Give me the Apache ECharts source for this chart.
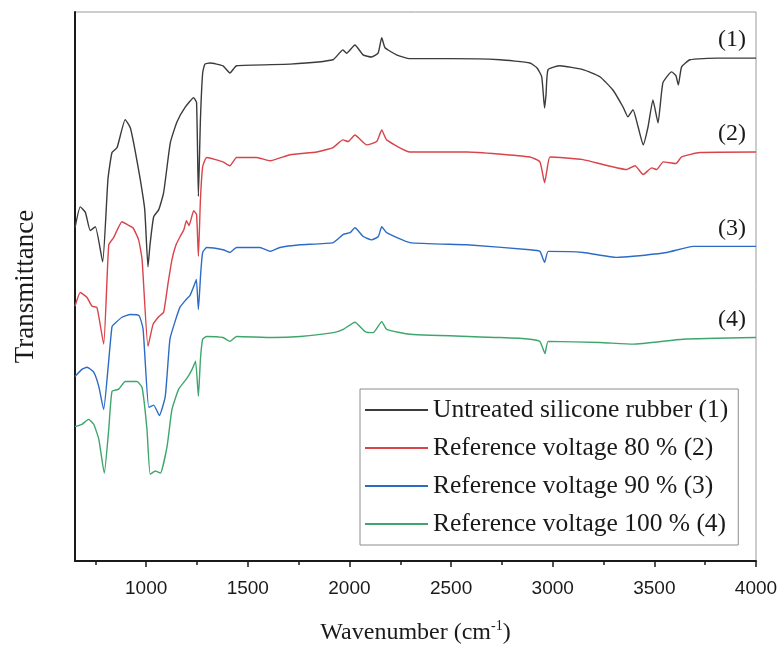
<!DOCTYPE html>
<html>
<head>
<meta charset="utf-8">
<script src="https://cdn.jsdelivr.net/npm/echarts@6/dist/echarts.min.js"></script>
<style>
html,body{margin:0;padding:0;background:#fff;}
#chart{width:782px;height:650px;}
</style>
</head>
<body>
<div id="chart"></div>
<script>
// ---- Data (wavenumber in cm^-1, transmittance in arbitrary units) ----
const seriesNames = [
  'Untreated silicone rubber (1)',
  'Reference voltage 80 % (2)',
  'Reference voltage 90 % (3)',
  'Reference voltage 100 % (4)'
];
const curveTags = ['(1)', '(2)', '(3)', '(4)'];

const untreatedWn = [650,676,701,725,750,786,812,832,857,897,922,945,971,993,1009,1019,1037,1062,1086,1119,1152,1193,1234,1248,1257,1267,1278,1289,1314,1378,1412,1445,1708,1919,1968,1986,2027,2067,2109,2141,2159,2175,2232,2298,2495,2741,2888,2923,2946,2960,2967,2977,3036,3149,3232,3296,3346,3370,3395,3420,3445,3469,3493,3518,3542,3585,3606,3618,3634,3675,3807,4000];
const untreatedT  = [60.7,64.5,63.5,60.2,60.9,54.5,69.5,74.4,75.3,80.4,78.9,74.9,69.5,64.0,53.6,57.6,62.7,64.0,67.1,76.2,80.0,82.7,84.4,83.5,66.4,80.4,88.9,90.5,90.7,90.2,88.9,90.2,90.5,91.3,93.1,92.5,94.0,92.2,91.8,92.5,95.3,93.5,92.2,91.5,91.5,91.3,90.7,89.8,88.2,82.5,84.9,89.5,90.2,89.5,88.2,85.8,82.7,80.9,82.2,79.1,75.8,79.1,84.0,79.8,87.1,89.1,88.4,86.7,90.0,91.3,91.6,91.6];

const v80Wn = [650,676,709,734,758,791,816,840,881,906,935,963,980,1009,1034,1062,1086,1107,1127,1147,1167,1186,1198,1211,1234,1248,1257,1267,1278,1298,1378,1412,1445,1544,1609,1708,1839,1919,1968,1993,2027,2085,2134,2159,2183,2298,2577,2888,2937,2960,2972,2987,3149,3364,3405,3445,3487,3511,3544,3606,3634,3724,4000];
const v80T  = [46.4,48.9,48.0,46.4,46.2,39.5,57.6,58.9,61.8,61.3,60.7,58.5,54.9,39.1,43.1,44.5,45.3,50.4,54.9,57.6,59.1,60.4,62.0,61.1,63.8,63.1,55.5,65.8,71.8,73.5,72.7,72.0,73.5,73.5,72.9,74.0,74.5,75.3,76.7,76.4,77.6,75.8,76.4,78.5,76.7,74.5,74.5,73.6,72.7,68.9,71.3,73.6,73.1,71.3,72.0,70.4,71.6,71.3,72.7,72.4,73.6,74.4,74.5];

const v90Wn = [650,684,709,742,767,791,812,832,847,881,922,965,985,1013,1037,1065,1094,1117,1142,1166,1196,1216,1236,1247,1257,1268,1278,1298,1378,1412,1445,1560,1609,1658,1757,1920,1970,2003,2027,2068,2109,2142,2159,2183,2298,2577,2888,2937,2960,2978,3150,3315,3395,3561,3691,4000];
const v90T  = [33.6,34.9,35.3,34.4,31.8,27.6,34.9,42.7,43.3,44.4,44.9,44.7,42.2,28.0,28.4,26.5,30.0,40.4,43.6,46.2,47.6,48.4,50.2,51.3,45.8,52.2,56.2,57.1,56.7,56.2,57.1,57.1,56.4,57.1,57.6,58.0,59.5,59.8,60.7,59.1,58.5,59.1,60.9,59.8,58.0,57.6,56.7,56.4,54.4,56.4,56.2,55.3,55.5,56.2,57.3,57.3];

const v100Wn = [650,684,717,742,767,794,816,832,865,897,955,980,1004,1020,1045,1070,1103,1127,1160,1201,1226,1243,1257,1267,1278,1298,1378,1412,1445,1624,1757,1921,1970,2027,2077,2117,2159,2183,2298,2741,2888,2937,2962,2978,3232,3395,3642,4000];
const v100T  = [24.5,24.9,25.8,24.9,22.2,16.0,24.0,30.9,31.3,32.7,32.7,31.6,24.0,15.8,16.4,16.0,20.9,27.6,31.3,33.3,34.9,36.4,30.0,36.7,40.4,40.9,40.7,40.0,40.9,40.7,40.9,41.6,42.2,43.5,41.8,41.6,43.6,42.2,41.3,40.7,40.4,40.0,37.8,40.0,39.8,39.5,40.4,40.7];

const xMajorTicks = [1000,1500,2000,2500,3000,3500,4000];
const xMinorTicks = [750,1250,1750,2250,2750,3250,3750];
const xMin = 650, xMax = 4000;

// ---- Build chart ----
const colors = ['#3b3b3b', '#d9434a', '#2d6cc6', '#3ea66c'];
const wnArrays = [untreatedWn, v80Wn, v90Wn, v100Wn];
const tArrays = [untreatedT, v80T, v90T, v100T];
const zip = (a, b) => a.map((x, i) => [x, b[i]]);

const chart = echarts.init(document.getElementById('chart'), null, {renderer: 'canvas'});

const serif = '"Liberation Serif", "DejaVu Serif", serif';
const sans = '"Liberation Sans", Arial, sans-serif';

const series = seriesNames.map((name, i) => ({
  name: name,
  type: 'line',
  xAxisIndex: 0,
  data: zip(wnArrays[i], tArrays[i]),
  showSymbol: false,
  symbol: 'none',
  smooth: 0.15,
  lineStyle: {color: colors[i], width: 1.4},
  itemStyle: {color: colors[i]},
  endLabel: {
    show: true,
    formatter: curveTags[i],
    fontFamily: serif,
    fontSize: 24,
    color: '#1a1a1a',
    align: 'right',
    verticalAlign: 'bottom',
    offset: [-18, -6]
  },
  z: 10 - i
}));

const option = {
  animation: false,
  backgroundColor: '#fff',
  grid: {
    left: 75, right: 26, top: 12, bottom: 88,
    show: true, borderColor: '#9a9a9a', borderWidth: 1
  },
  legend: {
    orient: 'vertical',
    left: 360, top: 389,
    data: seriesNames,
    icon: 'rect',
    itemWidth: 63, itemHeight: 2,
    itemGap: 12,
    padding: [8, 10, 8, 5],
    borderColor: '#8c8c8c', borderWidth: 1,
    backgroundColor: '#fff',
    textStyle: {fontFamily: serif, fontSize: 25.5, color: '#1a1a1a', lineHeight: 26}
  },
  xAxis: [{
    type: 'value',
    min: xMin, max: xMax,
    name: '{a|Wavenumber (cm}{s|-1}{a|)}',
    nameLocation: 'middle',
    nameGap: 58,
    nameTextStyle: {
      rich: {
        a: {fontFamily: serif, fontSize: 24, color: '#1a1a1a', lineHeight: 28},
        s: {fontFamily: serif, fontSize: 14, color: '#1a1a1a', verticalAlign: 'top', lineHeight: 14}
      }
    },
    axisLine: {show: true, onZero: false, lineStyle: {color: '#1a1a1a', width: 2}},
    splitLine: {show: false},
    axisTick: {show: true, inside: false, length: 6, customValues: xMajorTicks, lineStyle: {color: '#1a1a1a', width: 1.5}},
    axisLabel: {show: true, customValues: xMajorTicks, margin: 18, fontFamily: sans, fontSize: 19, color: '#1a1a1a',
      formatter: v => String(v)}
  }, {
    type: 'value',
    min: xMin, max: xMax,
    position: 'bottom',
    axisLine: {show: false},
    splitLine: {show: false},
    axisTick: {show: true, inside: false, length: 4, customValues: xMinorTicks, lineStyle: {color: '#1a1a1a', width: 1.5}},
    axisLabel: {show: false}
  }],
  yAxis: {
    type: 'value',
    min: 0, max: 100,
    name: 'Transmittance',
    nameLocation: 'middle',
    nameGap: 36,
    nameTextStyle: {fontFamily: serif, fontSize: 27, color: '#1a1a1a'},
    axisLine: {show: true, onZero: false, lineStyle: {color: '#1a1a1a', width: 2}},
    axisTick: {show: false},
    axisLabel: {show: false},
    splitLine: {show: false}
  },
  series: series
};
chart.setOption(option);
</script>
</body>
</html>
